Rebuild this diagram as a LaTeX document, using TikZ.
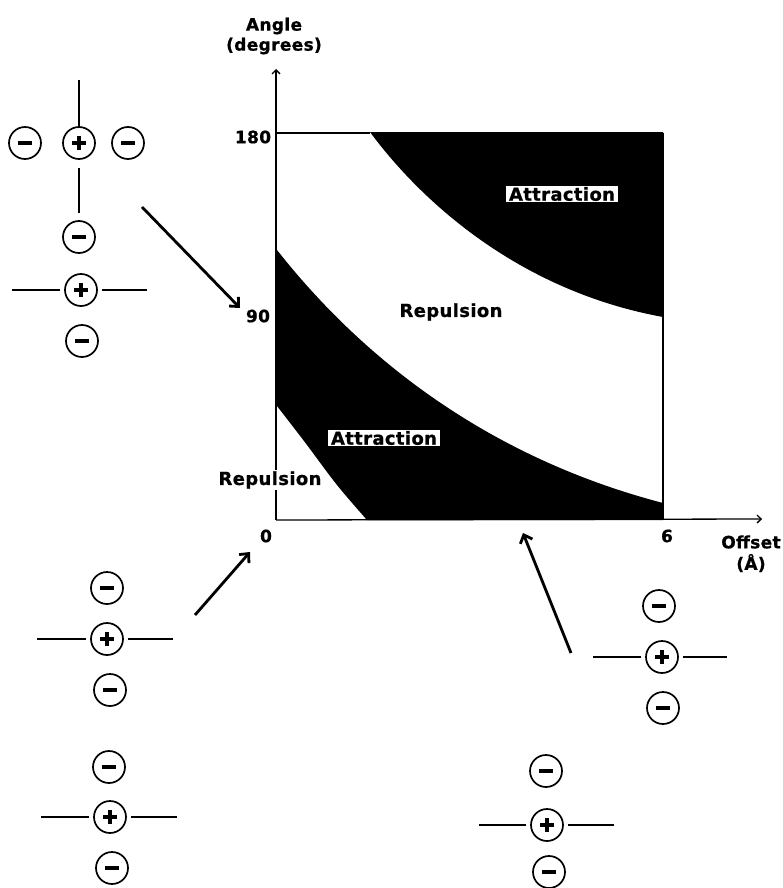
\documentclass[tikz,border=0pt]{standalone}
\usepackage{fontspec}
\newfontfamily\chic[LetterSpace=2, BoldFeatures={FakeBold=0.8}]{DejaVu Sans}
\usetikzlibrary{arrows.meta}
\begin{document}
\begin{tikzpicture}[x=1pt,y=-1pt,
  lab/.style={font=\chic\bfseries\fontsize{18}{21}\selectfont, inner xsep=2.5pt, inner ysep=1.5pt},
  wlab/.style={lab, fill=white},
  axlab/.style={font=\chic\bfseries\fontsize{17}{20}\selectfont, inner sep=1pt},
  ion/.style={circle, draw, line width=1.7pt, minimum size=32pt, inner sep=0pt},
  pion/.style={ion, path picture={
     \fill ([shift={(-7pt,-2.3pt)}]path picture bounding box.center) rectangle ([shift={(7pt,2.3pt)}]path picture bounding box.center);
     \fill ([shift={(-2.3pt,-7pt)}]path picture bounding box.center) rectangle ([shift={(2.3pt,7pt)}]path picture bounding box.center);}},
  mion/.style={ion, path picture={
     \fill ([shift={(-7pt,-2.3pt)}]path picture bounding box.center) rectangle ([shift={(7pt,2.3pt)}]path picture bounding box.center);}},
  bond/.style={line width=1.7pt},
  axisline/.style={line width=1.3pt},
  axisarrow/.style={line width=1.3pt, -{Straight Barb[length=4pt,width=8pt]}},
  pointer/.style={line width=2.8pt, -{Straight Barb[length=7pt,width=13pt]}}
]
\useasboundingbox (0,0) rectangle (783,888);

% ---- plot regions ----
\fill (370,132) -- (663,132) -- (663,317)
  .. controls (515,290) and (418,197) .. (370,132) -- cycle;
\fill (277,250)
  .. controls (340,330) and (460,450) .. (663,503)
  -- (663,520) -- (367,520)
  -- plot[smooth] coordinates {(367,520) (337,485) (304,441) (277,406)} -- cycle;

% ---- axes and frame ----
\coordinate (origin) at (276,520);
\coordinate (ytip) at (276,69);
\coordinate (xtip) at (762,519);
\coordinate (tl) at (276,133);
\coordinate (tm) at (370,133);
\coordinate (tr) at (663,133);
\coordinate (br) at (663,520);
\draw[axisarrow] (origin) -- (ytip);
\draw[axisarrow] (origin) -- (xtip);
\draw[axisline] (tl) -- (tm);
\draw[axisline] (tr) -- (br);

% ---- axis labels ----
\node[axlab] (angle) at (274,26) {Angle};
\node[axlab] (deg) at (274,46) {(degrees)};
\node[axlab] (y180) at (253,137) {180};
\node[axlab] (y90) at (258,316) {90};
\node[axlab] (x0) at (266,536) {0};
\node[axlab] (x6) at (667,536) {6};
\node[axlab] (off) at (751,542) {Offset};
\node[axlab] (ang) at (751,563) {(Å)};

% ---- region labels ----
\node[wlab] (att1) at (562,194) {Attraction};
\node[lab] (rep1) at (451,312) {Repulsion};
\node[wlab] (att2) at (384,438) {Attraction};
\node[wlab] (rep2) at (270,480) {Repulsion};

% ---- group A ----
\node[pion] (gAp) at (79,143) {};
\node[mion] (gAm1) at (25,143) {};
\node[mion] (gAm2) at (128,143) {};
\coordinate (gAt) at (79,80);
\coordinate (gAb) at (79,213);
\draw[bond] (gAt) -- (gAp.north);
\draw[bond, shorten <=8pt] (gAp.south) -- (gAb);

% ---- group B ----
\node[mion] (gBm1) at (79,237) {};
\node[pion] (gBp) at (81,290) {};
\node[mion] (gBm2) at (82,341) {};
\coordinate (gBl) at (12,290);
\coordinate (gBr) at (147,290);
\draw[bond, shorten <=4pt] (gBp.west) -- (gBl);
\draw[bond, shorten <=4pt] (gBp.east) -- (gBr);

% ---- group C ----
\node[mion] (gCm1) at (107,588) {};
\node[pion] (gCp) at (107,639) {};
\node[mion] (gCm2) at (110,690) {};
\coordinate (gCl) at (37,639);
\coordinate (gCr) at (173,639);
\draw[bond, shorten <=4pt] (gCp.west) -- (gCl);
\draw[bond, shorten <=4pt] (gCp.east) -- (gCr);

% ---- group D ----
\node[mion] (gDm1) at (109,767) {};
\node[pion] (gDp) at (110,817) {};
\node[mion] (gDm2) at (112,868) {};
\coordinate (gDl) at (41,817);
\coordinate (gDr) at (177,817);
\draw[bond, shorten <=4pt] (gDp.west) -- (gDl);
\draw[bond, shorten <=4pt] (gDp.east) -- (gDr);

% ---- group E ----
\node[mion] (gEm1) at (659,606) {};
\node[pion] (gEp) at (662,657) {};
\node[mion] (gEm2) at (663,708) {};
\coordinate (gEl) at (593,657);
\coordinate (gEr) at (727,657);
\draw[bond, shorten <=4pt] (gEp.west) -- (gEl);
\draw[bond, shorten <=4pt] (gEp.east) -- (gEr);

% ---- group F ----
\node[mion] (gFm1) at (546,771) {};
\node[pion] (gFp) at (547,825) {};
\node[mion] (gFm2) at (549,872) {};
\coordinate (gFl) at (479,825);
\coordinate (gFr) at (614,825);
\draw[bond, shorten <=4pt] (gFp.west) -- (gFl);
\draw[bond, shorten <=4pt] (gFp.east) -- (gFr);

% ---- pointers ----
\coordinate (p1s) at (142,207);
\coordinate (p1e) at (240,308);
\coordinate (p2s) at (195,615);
\coordinate (p2e) at (250,552);
\coordinate (p3s) at (571,653);
\coordinate (p3e) at (523,533);
\draw[pointer] (p1s) -- (p1e);
\draw[pointer] (p2s) -- (p2e);
\draw[pointer] (p3s) -- (p3e);
\end{tikzpicture}
\end{document}
